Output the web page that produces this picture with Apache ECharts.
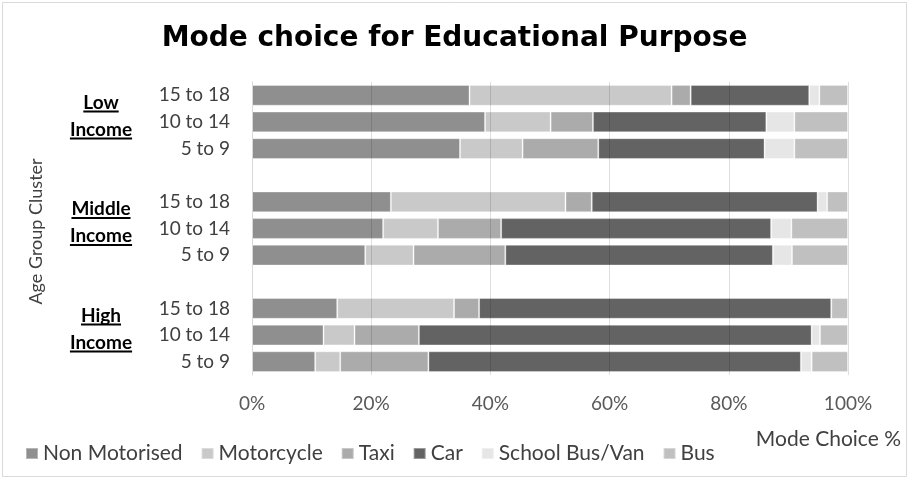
<!DOCTYPE html>
<html>
<head>
<meta charset="utf-8">
<script src="https://cdn.jsdelivr.net/npm/echarts@6/dist/echarts.min.js"></script>
<style>
  html, body { margin: 0; padding: 0; background: #fff; }
  #chart { width: 909px; height: 479px; }
</style>
</head>
<body>
<div id="chart"></div>
<script>
// Rows, top to bottom; blank keys leave a gap between income groups
const categories = [
  'Low|15 to 18', 'Low|10 to 14', 'Low|5 to 9', 'gap1|',
  'Middle|15 to 18', 'Middle|10 to 14', 'Middle|5 to 9', 'gap2|',
  'High|15 to 18', 'High|10 to 14', 'High|5 to 9'
];
const groups = [
  { name: 'Low', lines: ['Low', 'Income'], centre: 'Low|10 to 14' },
  { name: 'Middle', lines: ['Middle', 'Income'], centre: 'Middle|10 to 14' },
  { name: 'High', lines: ['High', 'Income'], centre: 'High|10 to 14' }
];
const xTicks = [0, 20, 40, 60, 80, 100];

// Mode shares in percent (null = gap row)
const nonMotorised = [36.5, 39.1, 34.9, null, 23.3, 22.0, 19.0, null, 14.3, 12.0, 10.6];
const motorcycle   = [33.9, 11.0, 10.5, null, 29.3,  9.2,  8.1, null, 19.6,  5.2,  4.2];
const taxi         = [ 3.2,  7.1, 12.7, null,  4.4, 10.6, 15.4, null,  4.2, 10.8, 14.8];
const car          = [19.9, 29.1, 27.9, null, 37.9, 45.3, 44.9, null, 59.1, 65.9, 62.5];
const schoolBusVan = [ 1.7,  4.7,  5.0, null,  1.6,  3.4,  3.2, null,  0.0,  1.4,  1.8];
const bus          = [ 4.8,  9.0,  9.0, null,  3.5,  9.5,  9.4, null,  2.8,  4.7,  6.1];

const seriesDefs = [
  { name: 'Non Motorised', data: nonMotorised, color: '#8f8f8f' },
  { name: 'Motorcycle', data: motorcycle, color: '#c9c9c9' },
  { name: 'Taxi', data: taxi, color: '#ababab' },
  { name: 'Car', data: car, color: '#636363' },
  { name: 'School Bus/Van', data: schoolBusVan, color: '#e6e6e6' },
  { name: 'Bus', data: bus, color: '#c0c0c0' }
];

const FONT = 'Lato, "Noto Sans", sans-serif';
const chart = echarts.init(document.getElementById('chart'), null, { renderer: 'canvas' });

const option = {
  animation: false,
  backgroundColor: '#fff',
  title: {
    text: 'Mode choice for Educational Purpose',
    left: 'center',
    top: 20,
    textStyle: { fontFamily: '"DejaVu Sans", sans-serif', fontWeight: 'bold', fontSize: 28, color: '#000' }
  },
  legend: {
    left: 20,
    top: 438,
    itemWidth: 12,
    itemHeight: 11,
    itemGap: 18,
    icon: 'rect',
    textStyle: { fontFamily: FONT, fontSize: 21, color: '#404040' },
    data: seriesDefs.map(s => s.name)
  },
  grid: { left: 252, right: 61, top: 82, bottom: 104 },
  xAxis: {
    type: 'value',
    min: 0,
    max: 100,
    interval: 20,
    z: 3,
    axisLine: { show: false },
    axisTick: { show: false },
    splitLine: { lineStyle: { color: 'rgba(0,0,0,0.13)', width: 1 } },
    axisLabel: {
      formatter: v => xTicks.includes(v) ? v + '%' : '',
      fontFamily: FONT, fontSize: 19, color: '#595959', margin: 19
    }
  },
  yAxis: {
    type: 'category',
    inverse: true,
    data: categories,
    z: 3,
    axisLine: { lineStyle: { color: '#d9d9d9' } },
    axisTick: { show: false },
    axisLabel: {
      formatter: v => v.split('|')[1],
      fontFamily: FONT, fontSize: 19, color: '#404040', margin: 22
    },
    name: 'Age Group Cluster',
    nameLocation: 'middle',
    nameGap: 207,
    nameTextStyle: { fontFamily: FONT, fontSize: 18, color: '#404040', padding: [0, 6, 0, 0] }
  },
  series: seriesDefs.map(s => ({
    name: s.name,
    type: 'bar',
    stack: 'mode',
    barCategoryGap: '22%',
    data: s.data,
    itemStyle: { color: s.color, borderColor: 'rgba(255,255,255,0.35)', borderWidth: 1 }
  }))
};
chart.setOption(option);

// Bold underlined income-group labels beside each block of rows
const measure = document.createElement('canvas').getContext('2d');
const groupFont = 'bold 19px ' + FONT;
measure.font = groupFont;
const groupX = 101;
const lineH = 27;
const elements = [
  {
    type: 'rect',
    shape: { x: 2.5, y: 2.5, width: 904, height: 474 },
    style: { fill: null, stroke: '#d9d9d9', lineWidth: 1 },
    silent: true
  },
  {
    type: 'text',
    right: 8,
    top: 429,
    style: { text: 'Mode Choice %', fontFamily: FONT, fontSize: 21, fill: '#404040' }
  }
];
groups.forEach(g => {
  const cy = chart.convertToPixel({ yAxisIndex: 0 }, g.centre) - 6;
  g.lines.forEach((line, i) => {
    const y = cy + (i - 0.5) * lineH;
    const w = measure.measureText(line).width;
    elements.push({
      type: 'text',
      x: groupX,
      y: y,
      style: {
        text: line, font: groupFont, fill: '#000',
        align: 'center', verticalAlign: 'middle'
      }
    });
    elements.push({
      type: 'line',
      shape: { x1: groupX - w / 2, y1: y + 9, x2: groupX + w / 2, y2: y + 9 },
      style: { stroke: '#000', lineWidth: 2 }
    });
  });
});
chart.setOption({ graphic: { elements } });
</script>
</body>
</html>
